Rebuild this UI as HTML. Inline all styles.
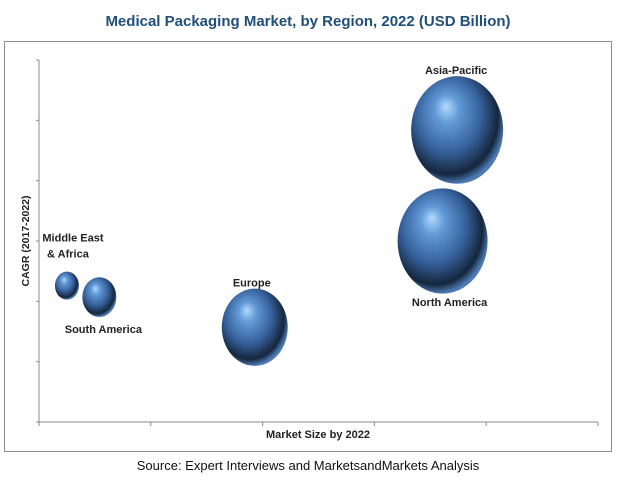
<!DOCTYPE html>
<html><head><meta charset="utf-8"><style>
body{margin:0;background:#fff;font-family:"Liberation Sans",sans-serif}
svg text{font-family:"Liberation Sans",sans-serif}
</style></head><body>
<svg width="617" height="479" viewBox="0 0 617 479">
<defs>
<radialGradient id="bg" cx="0.42" cy="0.4" r="0.6" fx="0.38" fy="0.28">
<stop offset="0" stop-color="#b2dafd"/>
<stop offset="0.22" stop-color="#629ad8"/>
<stop offset="0.6" stop-color="#35609a"/>
<stop offset="0.88" stop-color="#15263d"/>
<stop offset="1" stop-color="#4d7ab3"/>
</radialGradient>
</defs>
<text x="308" y="26" text-anchor="middle" font-size="15" font-weight="bold" fill="#1f4f7a">Medical Packaging Market, by Region, 2022 (USD Billion)</text>
<rect x="4.5" y="41.5" width="607" height="410" fill="none" stroke="#8c8c8c"/>
<g id="axes" stroke="#888" stroke-width="1"></g>
<text x="318" y="438" text-anchor="middle" font-size="11" font-weight="bold" fill="#222">Market Size by 2022</text>
<text transform="translate(29,241) rotate(-90)" text-anchor="middle" font-size="10.5" font-weight="bold" fill="#222">CAGR (2017-2022)</text>
<g id="bubbles"></g>
<g id="labels" font-size="11" font-weight="bold" fill="#222"></g>
<text x="308" y="470" text-anchor="middle" font-size="13" fill="#111">Source: Expert Interviews and MarketsandMarkets Analysis</text>
</svg>
<script>
const regions=["Middle East & Africa","South America","Europe","North America","Asia-Pacific"];
const marketSize=[0.25,0.54,1.93,3.61,3.74];
const cagr=[2.26,2.07,1.57,3.0,4.84];
const bubbleSize=[12,17,33,45,46];
const xTicks=[0,1,2,3,4,5];
const yTicks=[0,1,2,3,4,5,6];
const X0=39,X1=598,Y0=422,Y1=60;
const xs=v=>X0+v*(X1-X0)/5, ys=v=>Y0-v*(Y0-Y1)/6;
const NS="http://www.w3.org/2000/svg";
function mk(t,a,p){const e=document.createElementNS(NS,t);for(const k in a)e.setAttribute(k,a[k]);p.appendChild(e);return e;}
const ax=document.getElementById('axes');
let l=mk('line',{x1:X0,y1:Y0,x2:X1,y2:Y0},ax);


l=mk('line',{x1:X0,y1:Y0,x2:X0,y2:Y1},ax);


xTicks.forEach(t=>{const e=mk('line',{x1:xs(t),y1:Y0,x2:xs(t),y2:Y0+4},ax);

});
yTicks.forEach(t=>{const e=mk('line',{x1:X0-3,y1:ys(t),x2:X0,y2:ys(t)},ax);

});
const bg=document.getElementById('bubbles');
regions.forEach((r,i)=>{const e=mk('ellipse',{cx:xs(marketSize[i]),cy:ys(cagr[i]),rx:bubbleSize[i],ry:bubbleSize[i]*1.17,fill:'url(#bg)'},bg);

});
const lg=document.getElementById('labels');
const place=[[["Middle East","& Africa"],6,-44],[["South America"],4,36],[["Europe"],-3,-41],[["North America"],7,65],[["Asia-Pacific"],-1,-56]];
place.forEach((p,i)=>{const cx=xs(marketSize[i]),cy=ys(cagr[i]);
p[0].forEach((s,j)=>{const t=mk('text',{x:cx+p[1]-(j==1&&i==0?5:0),y:cy+p[2]+j*16,'text-anchor':'middle'},lg);t.textContent=s;

});});
</script>
</body></html>
